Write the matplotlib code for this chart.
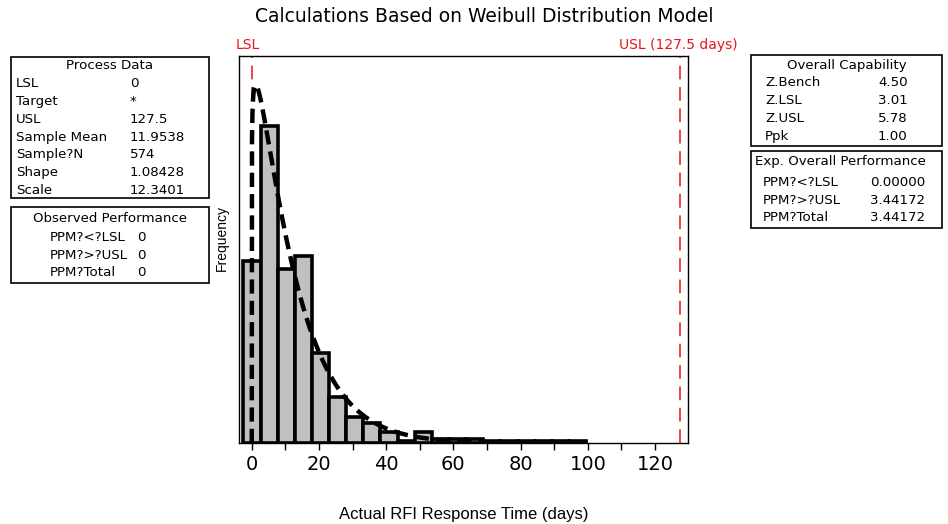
import matplotlib
matplotlib.use("Agg")
import matplotlib.pyplot as plt
import numpy as np
from matplotlib.patches import Rectangle

# histogram data (bin edges start at -2.5, width 5.1)
bin_start = -2.5
bin_width = 5.1
counts = [99, 173, 95, 102, 49, 25, 14, 11, 6, 1, 6, 2, 2, 2, 1, 1, 1, 1, 1, 1]

# fitted Weibull model
shape = 1.08428
scale = 12.3401
n_obs = 574
lsl = 0
usl = 127.5

xticks = [0, 20, 40, 60, 80, 100, 120]

process_rows = [("LSL", "0"), ("Target", "*"), ("USL", "127.5"),
                ("Sample Mean", "11.9538"), ("Sample?N", "574"),
                ("Shape", "1.08428"), ("Scale", "12.3401")]
observed_rows = [("PPM?<?LSL", "0"), ("PPM?>?USL", "0"), ("PPM?Total", "0")]
capability_rows = [("Z.Bench", "4.50"), ("Z.LSL", "3.01"), ("Z.USL", "5.78"), ("Ppk", "1.00")]
expected_rows = [("PPM?<?LSL", "0.00000"), ("PPM?>?USL", "3.44172"), ("PPM?Total", "3.44172")]

W, H = 948, 524
fig = plt.figure(figsize=(W / 100, H / 100), dpi=100)


def fx(x):
    return x / W


def fy(y):
    return 1 - y / H


ax = fig.add_axes([fx(239), fy(443), fx(688) - fx(239), fy(56) - fy(443)])

edges = bin_start + bin_width * np.arange(len(counts) + 1)
ax.bar(edges[:-1], counts, width=bin_width, align="edge",
       color="#c0c0c0", edgecolor="black", linewidth=2.6, zorder=2)

# Weibull density scaled to the histogram
xs = np.linspace(0, 100, 1500)
pdf = (shape / scale) * (xs / scale) ** (shape - 1) * np.exp(-(xs / scale) ** shape)
ax.plot(xs, pdf * n_obs * bin_width, color="black", lw=3.2,
        linestyle=(0, (3.2, 1.6)), zorder=4)

# spec limits
for v in (lsl, usl):
    ax.axvline(v, color="#e8141b", lw=1.1, linestyle=(0, (9, 5)), zorder=1)

ax.set_xlim(-3.8, 129.8)
ax.set_ylim(0, 211)
ax.set_yticks([])
ax.set_xticks(xticks)
ax.set_xticks(np.arange(10, 130, 20), minor=True)
ax.tick_params(axis="x", which="both", direction="out", length=5, width=1,
               labelsize=14, pad=4)
for s in ax.spines.values():
    s.set_linewidth(1)

fig.text(fx(222), fy(238), "Frequency", rotation=90, ha="center", va="center",
         fontsize=10, family="Liberation Sans")
fig.text(fx(464), fy(515), "Actual RFI Response Time (days)", ha="center",
         va="center", fontsize=12, family="Liberation Sans")

fig.text(fx(484), fy(17), "Calculations Based on Weibull Distribution Model",
         ha="center", va="center", fontsize=13.5)
fig.text(fx(236), fy(45), "LSL", color="#e8141b", ha="left", va="center", fontsize=10)
fig.text(fx(738), fy(45), "USL (127.5 days)", color="#e8141b", ha="right",
         va="center", fontsize=10)


def draw_box(x0, y0, x1, y1):
    fig.add_artist(Rectangle((fx(x0), fy(y1)), fx(x1) - fx(x0), fy(y0) - fy(y1),
                             transform=fig.transFigure, fill=False,
                             edgecolor="black", lw=1.2))


def draw_table(title, rows, box, title_y, row_y0, step, lab_x, val_x, title_x=None):
    draw_box(*box)
    if title_x is None:
        fig.text(fx((box[0] + box[2]) / 2), fy(title_y), title, ha="center",
                 va="center", fontsize=9.6)
    else:
        fig.text(fx(title_x), fy(title_y), title, ha="left", va="center", fontsize=9.6)
    for i, (lab, val) in enumerate(rows):
        y = row_y0 + i * step
        fig.text(fx(lab_x), fy(y), lab, ha="left", va="center", fontsize=9.6)
        fig.text(fx(val_x), fy(y), val, ha="left", va="center", fontsize=9.6)


draw_table("Process Data", process_rows, (11, 57, 209, 198), 66, 84, 17.7, 16, 130)
draw_table("Observed Performance", observed_rows, (11, 207, 209, 283), 218, 238, 17.5, 50, 137)
draw_table("Overall Capability", capability_rows, (751, 55, 942, 146), 65, 83, 17.7, 765, 878)
draw_table("Exp. Overall Performance", expected_rows, (751, 151, 942, 228), 162, 183, 17.3, 763, 870,
           title_x=755)

fig.savefig("out.png", dpi=100)
